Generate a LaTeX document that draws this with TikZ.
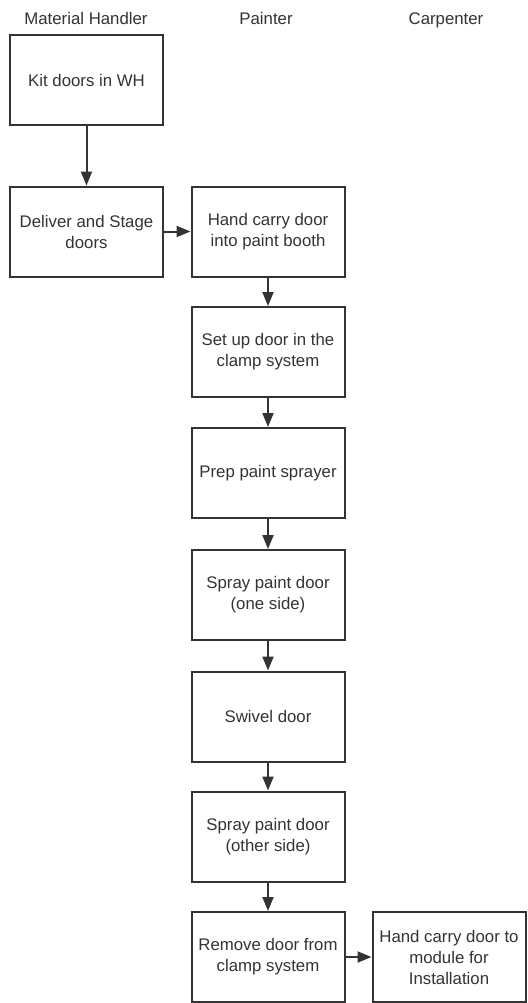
\documentclass[tikz,border=0pt]{standalone}
\usepackage{fontspec}
\setmainfont{Liberation Sans}
\usetikzlibrary{arrows.meta,positioning}
\definecolor{ink}{HTML}{333333}
\tikzset{>={Triangle[length=7pt,width=5.5pt]},box/.style={draw=ink,line width=1pt,minimum width=76.5pt,minimum height=45pt,inner sep=0pt,align=center,font=\fontsize{8.4}{10.5}\selectfont,text=ink},arr/.style={->,line width=1pt,ink},lane/.style={anchor=base,font=\fontsize{8.4}{10.5}\selectfont,text=ink}}

\begin{document}
\begin{tikzpicture}[x=0.5pt,y=-0.5pt]
\useasboundingbox (0,0) rectangle (527,1003);
\node[lane] (handler) at (86,24) {Material Handler};
\node[lane] (painter) at (266,24) {Painter};
\node[lane] (carpenter) at (446,24) {Carpenter};
\foreach \n/\x/\y/\t in {kit/86.5/80/{Kit doors in WH},deliver/86.5/231.5/{Deliver and Stage\\doors},carry/268/231.5/{Hand carry door\\into paint booth},setup/268/352/{Set up door in the\\clamp system},prep/268/473/{Prep paint sprayer},sprayone/268/595/{Spray paint door\\(one side)},swivel/268/716.5/{Swivel door},spraytwo/268/836.5/{Spray paint door\\(other side)},remove/268/957/{Remove door from\\clamp system},module/449/957/{Hand carry door to\\module for\\Installation}}{\node[box] (\n) at (\x,\y) {\t};}
\foreach \a/\b in {kit/deliver,deliver/carry,carry/setup,setup/prep,prep/sprayone,sprayone/swivel,swivel/spraytwo,spraytwo/remove,remove/module}{\draw[arr] (\a)--(\b);}
\end{tikzpicture}
\end{document}
